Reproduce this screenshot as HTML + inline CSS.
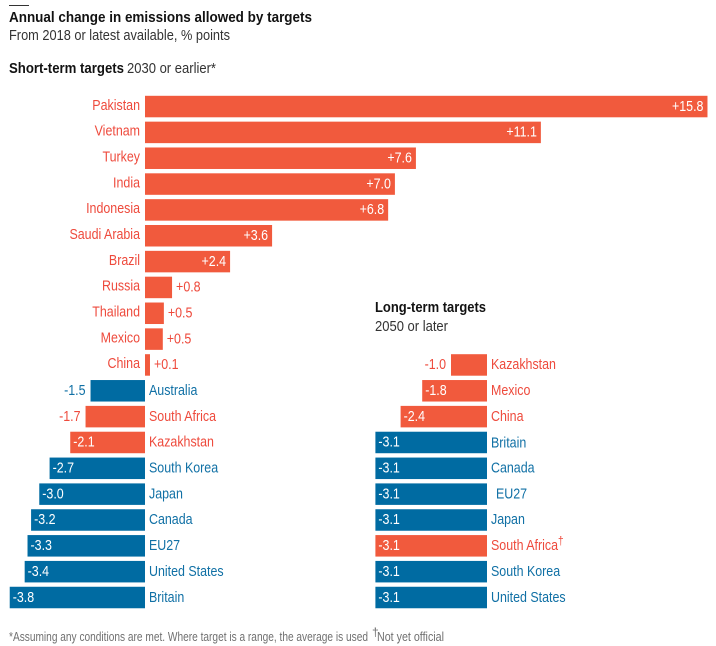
<!DOCTYPE html>
<html lang="en">
<head>
<meta charset="utf-8">
<title>Annual change in emissions allowed by targets</title>
<style>
html,body{margin:0;padding:0;background:#fff;}
svg{display:block;font-family:"Liberation Sans",sans-serif;}
</style>
</head>
<body>
<svg id="chart" width="716" height="646" viewBox="0 0 716 646" xmlns="http://www.w3.org/2000/svg">
  <rect x="9" y="5" width="20" height="1" fill="#333"/>
  <text x="9" y="22" font-size="15" font-weight="700" fill="#121212" textLength="303" lengthAdjust="spacingAndGlyphs">Annual change in emissions allowed by targets</text>
  <text x="9" y="40" font-size="15" fill="#333" textLength="221" lengthAdjust="spacingAndGlyphs">From 2018 or latest available, % points</text>
  <text x="9" y="73" font-size="15" font-weight="700" fill="#121212" textLength="115" lengthAdjust="spacingAndGlyphs">Short-term targets</text>
  <text x="127" y="73" font-size="15" fill="#333" textLength="89" lengthAdjust="spacingAndGlyphs">2030 or earlier*</text>
  <text x="375" y="312" font-size="15" font-weight="700" fill="#121212" textLength="111" lengthAdjust="spacingAndGlyphs">Long-term targets</text>
  <text x="375" y="331" font-size="15" fill="#333" textLength="73" lengthAdjust="spacingAndGlyphs">2050 or later</text>
  <g id="short-bars"></g>
  <g id="long-bars"></g>
  <text x="9" y="641" font-size="13" fill="#707070" textLength="359" lengthAdjust="spacingAndGlyphs">*Assuming any conditions are met. Where target is a range, the average is used</text>
  <text x="372" y="636" font-size="12" fill="#707070">†</text>
  <text x="377" y="641" font-size="13" fill="#707070" textLength="67" lengthAdjust="spacingAndGlyphs">Not yet official</text>
</svg>
<script>
var shortCountries = ["Pakistan","Vietnam","Turkey","India","Indonesia","Saudi Arabia","Brazil","Russia","Thailand","Mexico","China","Australia","South Africa","Kazakhstan","South Korea","Japan","Canada","EU27","United States","Britain"];
var shortValues = [15.8,11.12,7.61,7.02,6.83,3.57,2.39,0.76,0.53,0.5,0.14,-1.53,-1.67,-2.1,-2.68,-2.97,-3.2,-3.3,-3.38,-3.8];
var shortGroups = ["r","r","r","r","r","r","r","r","r","r","r","b","r","r","b","b","b","b","b","b"];
var longCountries = ["Kazakhstan","Mexico","China","Britain","Canada","EU27","Japan","South Africa","South Korea","United States"];
var longValues = [-1.0,-1.8,-2.4,-3.1,-3.1,-3.1,-3.1,-3.1,-3.1,-3.1];
var longGroups = ["r","r","r","b","b","b","b","r","b","b"];

var NS = "http://www.w3.org/2000/svg";
var BAR_COLOR = {r:"#f15a3d", b:"#006ba2"};
var TEXT_COLOR = {r:"#ee4a3c", b:"#1070a5"};
var TEXT_SQUEEZE = 0.83;

function rowY(i){ return 95.8 + i * 25.84; }
function xShort(v){ return 145 + v * 35.6; }
function xLong(v){ return 487 + v * 36; }

function addText(parent, str, x, y, anchor, fill, name){
  var t = document.createElementNS(NS, "text");
  t.textContent = str;
  t.setAttribute("transform", "translate(" + x + " " + y + ") scale(" + TEXT_SQUEEZE + " 1)");
  t.setAttribute("text-anchor", anchor);
  t.setAttribute("font-size", "15");
  t.setAttribute("fill", fill);
  
  
  parent.appendChild(t);
  return t;
}

function fmt(v){
  return (v > 0 ? "+" : "") + v.toFixed(1);
}

function drawPanel(parentId, names, values, groups, xScale, startRow, prefix){
  var g = document.getElementById(parentId);
  var zero = xScale(0);
  for (var i = 0; i < names.length; i++){
    var v = values[i];
    var y = rowY(i + startRow);
    var x1 = xScale(v);
    var left = Math.min(x1, zero);
    var w = Math.abs(x1 - zero);
    var c = groups[i];
    var slug = names[i].toLowerCase().replace(/\s+/g, "-");

    var r = document.createElementNS(NS, "rect");
    r.setAttribute("x", left);
    r.setAttribute("y", y);
    r.setAttribute("width", w);
    r.setAttribute("height", 21.5);
    r.setAttribute("fill", BAR_COLOR[c]);
    
    
    g.appendChild(r);

    var ty = y + 15;
    var inside = w > 60;
    var valueName = prefix + "-value-" + slug;
    var labelName = prefix + "-label-" + slug;
    if (v > 0){
      if (inside){ addText(g, fmt(v), Math.min(x1 - 4, 706), ty, "end", "#fff", valueName); }
      else { addText(g, fmt(v), x1 + 4, ty, "start", TEXT_COLOR[c], valueName); }
      addText(g, names[i], zero - 5, ty - 1, "end", TEXT_COLOR[c], labelName);
    } else {
      if (inside){ addText(g, fmt(v), x1 + 3, ty, "start", "#fff", valueName); }
      else { addText(g, fmt(v), x1 - 5, ty, "end", TEXT_COLOR[c], valueName); }
      var lx = zero + 4;
      var labelY = ty;
      if (prefix === "long" && names[i] === "EU27"){ lx = zero + 9; }
      if (prefix === "long" && names[i] === "Britain"){ labelY = ty + 1; }
      addText(g, names[i], lx, labelY, "start", TEXT_COLOR[c], labelName);
      if (prefix === "long" && names[i] === "South Africa"){
        var d = addText(g, "†", lx + 67, ty - 5, "start", TEXT_COLOR[c], "long-label-dagger");
        d.setAttribute("font-size", "12");
      }
    }
  }
}

drawPanel("short-bars", shortCountries, shortValues, shortGroups, xShort, 0, "short");
drawPanel("long-bars", longCountries, longValues, longGroups, xLong, 10, "long");
</script>
</body>
</html>
